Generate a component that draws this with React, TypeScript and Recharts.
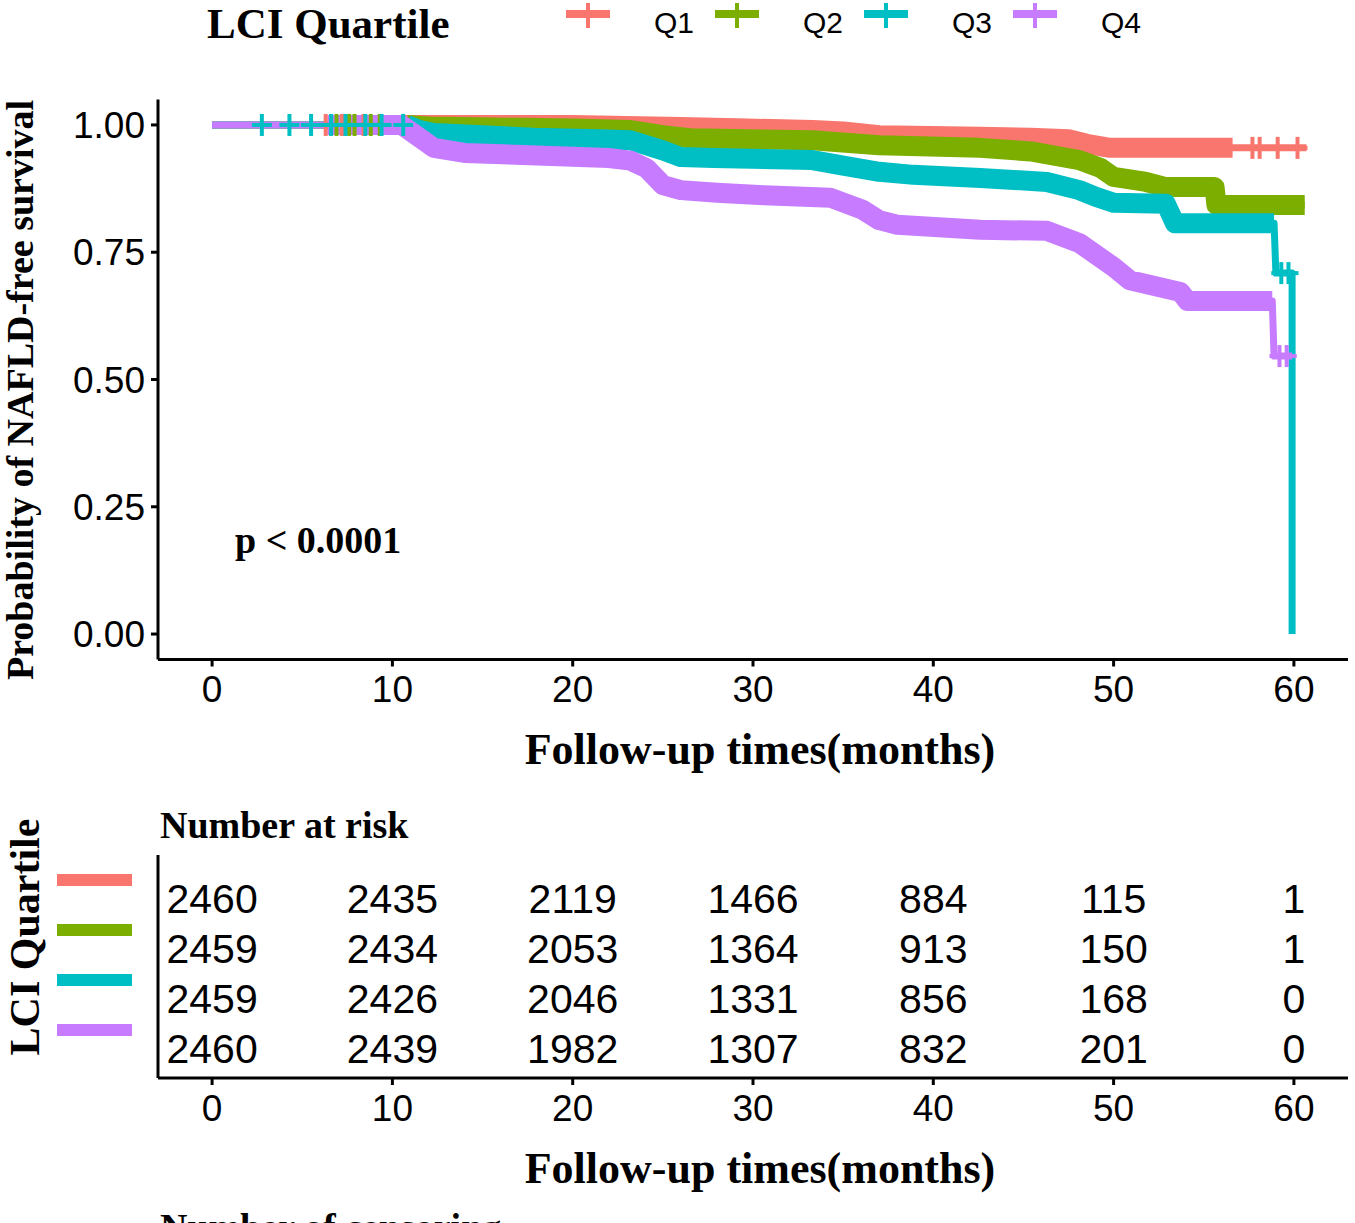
import { ComposedChart, Line, Scatter, XAxis, YAxis } from "recharts";

const quartiles = ["Q1", "Q2", "Q3", "Q4"];
const colors = ["#F8766D", "#7CAE00", "#00BFC4", "#C77CFF"];

const timeTicks = [0, 10, 20, 30, 40, 50, 60];
const survTicks = [0, 0.25, 0.5, 0.75, 1];

// survival curves (months, probability)
const q1Time = [0, 6.3, 9.0, 20, 26, 29.7, 33.3, 35, 37, 42.6, 45.4, 47.5, 48.5, 49.8, 56.6, 60.7];
const q1Surv = [1, 1, 1, 1, 0.996, 0.993, 0.99, 0.987, 0.98, 0.977, 0.975, 0.972, 0.963, 0.955, 0.955, 0.955];

const q2Time = [0, 10.8, 12, 20, 23.2, 25, 26.5, 33.3, 37, 42.6, 45.4, 48.1, 49.3, 50, 51.8, 52.9, 55.6, 55.7, 60.6];
const q2Surv = [1, 1, 0.997, 0.993, 0.99, 0.98, 0.974, 0.97, 0.96, 0.955, 0.948, 0.931, 0.915, 0.898, 0.888, 0.878, 0.878, 0.843, 0.843];

const q3Time = [0, 10.8, 11.5, 12.3, 17.8, 21.5, 23.2, 25, 26, 27.8, 33.3, 35, 37, 38.9, 42.6, 46.3, 48.1, 49, 50, 52.9, 53.4, 58.9, 59.0, 59.9, 59.9];
const q3Surv = [1, 1, 0.99, 0.984, 0.975, 0.972, 0.97, 0.95, 0.937, 0.935, 0.931, 0.92, 0.908, 0.902, 0.896, 0.888, 0.872, 0.859, 0.847, 0.845, 0.807, 0.807, 0.709, 0.709, 0];

const q4Time = [0, 6.4, 10.5, 11.5, 12.3, 14, 18, 22, 23.2, 24.1, 25, 26, 28, 30.6, 34.3, 36.1, 37, 38, 42.6, 46.3, 48.1, 50, 50.9, 53.7, 54.1, 58.8, 58.9, 59.9];
const q4Surv = [1, 1, 1, 0.975, 0.955, 0.945, 0.94, 0.935, 0.93, 0.915, 0.882, 0.872, 0.867, 0.862, 0.857, 0.833, 0.813, 0.804, 0.794, 0.792, 0.768, 0.721, 0.695, 0.672, 0.654, 0.654, 0.546, 0.546];

// stretch where censor marks are so dense they merge into a band
const q1Band = [9.0, 56.6];
const q2Band = [10.8, 60.6];
const q3Band = [10.8, 58.9];
const q4Band = [6.4, 58.8];

// separate censor marks [month, probability]
const q1Censor = [[6.3, 1], [7.2, 1], [8.4, 1], [57.7, 0.955], [58.1, 0.955], [59.1, 0.955], [60.2, 0.955]];
const q2Censor = [[6.9, 1], [7.6, 1], [7.9, 1], [8.8, 1], [9.3, 1]];
const q3Censor = [[2.76, 1], [4.29, 1], [5.49, 1], [6.6, 1], [7.4, 1], [8.5, 1], [9.4, 1], [10.6, 1], [59.3, 0.709], [59.7, 0.709]];
const q4Censor = [[59.2, 0.546], [59.6, 0.546]];

// number at risk
const riskTimes = [0, 10, 20, 30, 40, 50, 60];
const riskQ1 = [2460, 2435, 2119, 1466, 884, 115, 1];
const riskQ2 = [2459, 2434, 2053, 1364, 913, 150, 1];
const riskQ3 = [2459, 2426, 2046, 1331, 856, 168, 0];
const riskQ4 = [2460, 2439, 1982, 1307, 832, 201, 0];

const sans = "Liberation Sans, Arial, sans-serif";
const serif = "Liberation Serif, Times New Roman, serif";

const curves = [
  { time: q1Time, surv: q1Surv, band: q1Band, censor: q1Censor },
  { time: q2Time, surv: q2Surv, band: q2Band, censor: q2Censor },
  { time: q3Time, surv: q3Surv, band: q3Band, censor: q3Censor },
  { time: q4Time, surv: q4Surv, band: q4Band, censor: q4Censor },
].map((c, i) => {
  const pts = c.time.map((t, j) => ({ t, s: c.surv[j] }));
  return {
    name: quartiles[i],
    color: colors[i],
    pts,
    band: pts.filter((p) => p.t >= c.band[0] && p.t <= c.band[1]),
    marks: c.censor.map(([t, s]) => ({ t, s })),
  };
});

const riskRows = [riskQ1, riskQ2, riskQ3, riskQ4].map((vals, i) =>
  vals.map((n, j) => ({ t: riskTimes[j], row: i + 1, n }))
);

function Cross(props: any) {
  const { cx, cy, fill } = props;
  if (cx == null || cy == null) return null;
  return (
    <g>
      <rect x={cx - 10} y={cy - 2} width={20} height={4} fill={fill} />
      <rect x={cx - 2} y={cy - 11} width={4} height={22} fill={fill} />
    </g>
  );
}

function RiskText(props: any) {
  const { cx, cy, payload } = props;
  return (
    <text x={cx} y={cy} dy="0.36em" textAnchor="middle" fontSize={41} fontFamily={sans} fill="#000">
      {payload.n}
    </text>
  );
}

function ColorBar(props: any) {
  const { y, payload } = props;
  return <rect x={57} y={y - 24} width={75} height={12} fill={colors[payload.value - 1]} />;
}

const axisStyle = { stroke: "#000", strokeWidth: 3 };
const tickStyle = { fill: "#000", fontSize: 37, fontFamily: sans };

export default function App() {
  return (
    <div style={{ position: "absolute", left: 0, top: 0, width: 1355, height: 1223, background: "#fff", overflow: "hidden" }}>
      <div style={{ position: "absolute", left: 0, top: 0 }}>
        <ComposedChart width={1355} height={720} margin={{ top: 99.5, right: 7, bottom: 0.5, left: 58 }}>
          <XAxis
            dataKey="t"
            type="number"
            domain={[-3, 63]}
            ticks={timeTicks}
            interval={0}
            allowDataOverflow
            height={60}
            tickSize={7}
            tickMargin={9}
            axisLine={axisStyle}
            tickLine={axisStyle}
            tick={tickStyle}
          />
          <YAxis
            dataKey="s"
            type="number"
            domain={[-0.05, 1.05]}
            ticks={survTicks}
            interval={0}
            allowDataOverflow
            width={100}
            tickSize={7}
            tickMargin={6}
            tickFormatter={(v: number) => v.toFixed(2)}
            axisLine={axisStyle}
            tickLine={axisStyle}
            tick={tickStyle}
          />
          {curves.map((c) => (
            <Line
              key={"line" + c.name}
              data={c.pts}
              dataKey="s"
              type="linear"
              stroke={c.color}
              strokeWidth={7}
              strokeLinejoin="round"
              dot={false}
              activeDot={false}
              isAnimationActive={false}
            />
          ))}
          {curves.map((c) => (
            <Line
              key={"band" + c.name}
              data={c.band}
              dataKey="s"
              type="linear"
              stroke={c.color}
              strokeWidth={20}
              strokeLinejoin="round"
              dot={false}
              activeDot={false}
              isAnimationActive={false}
            />
          ))}
          {curves.map((c) => (
            <Scatter
              key={"cens" + c.name}
              data={c.marks}
              dataKey="s"
              fill={c.color}
              shape={(p: any) => <Cross {...p} fill={c.color} />}
              isAnimationActive={false}
            />
          ))}
        </ComposedChart>
      </div>

      <div style={{ position: "absolute", left: 0, top: 760 }}>
        <ComposedChart width={1355} height={378} margin={{ top: 95, right: 7, bottom: 0, left: 58 }}>
          <XAxis
            dataKey="t"
            type="number"
            domain={[-3, 63]}
            ticks={timeTicks}
            interval={0}
            allowDataOverflow
            height={60}
            tickSize={7}
            tickMargin={10}
            axisLine={axisStyle}
            tickLine={axisStyle}
            tick={tickStyle}
          />
          <YAxis
            dataKey="row"
            type="number"
            domain={[0.14, 4.6]}
            ticks={[1, 2, 3, 4]}
            interval={0}
            reversed
            allowDataOverflow
            width={100}
            tickLine={false}
            axisLine={axisStyle}
            tick={<ColorBar />}
          />
          {riskRows.map((rows, i) => (
            <Scatter
              key={"risk" + i}
              data={rows}
              dataKey="row"
              fill="#000"
              shape={(p: any) => <RiskText {...p} />}
              isAnimationActive={false}
            />
          ))}
        </ComposedChart>
      </div>

      <svg width={1355} height={1223} style={{ position: "absolute", left: 0, top: 0, pointerEvents: "none" }}>
        <text x={207} y={38} fontFamily={serif} fontWeight="bold" fontSize={43} fill="#000">
          LCI Quartile
        </text>
        {quartiles.map((q, i) => {
          const kx = [588, 737, 886, 1035][i];
          return (
            <g key={q}>
              <rect x={kx - 22} y={10} width={44} height={8} fill={colors[i]} />
              <rect x={kx - 2} y={3} width={4} height={25} fill={colors[i]} />
              <text x={kx + 66} y={33} fontFamily={sans} fontSize={30} fill="#000">
                {q}
              </text>
            </g>
          );
        })}
        <text x={235} y={553} fontFamily={serif} fontWeight="bold" fontSize={38} fill="#000">
          p &lt; 0.0001
        </text>
        <text
          x={0}
          y={0}
          transform="translate(33,390) rotate(-90)"
          textAnchor="middle"
          fontFamily={serif}
          fontWeight="bold"
          fontSize={38}
          fill="#000"
        >
          Probability of NAFLD-free survival
        </text>
        <text x={760} y={764} textAnchor="middle" fontFamily={serif} fontWeight="bold" fontSize={44} fill="#000">
          Follow-up times(months)
        </text>
        <text x={160} y={838} fontFamily={serif} fontWeight="bold" fontSize={38} fill="#000">
          Number at risk
        </text>
        <text
          x={0}
          y={0}
          transform="translate(39,937) rotate(-90)"
          textAnchor="middle"
          fontFamily={serif}
          fontWeight="bold"
          fontSize={42}
          fill="#000"
        >
          LCI Quartile
        </text>
        <text x={760} y={1183} textAnchor="middle" fontFamily={serif} fontWeight="bold" fontSize={44} fill="#000">
          Follow-up times(months)
        </text>
        <text x={160} y={1240} fontFamily={serif} fontWeight="bold" fontSize={38} fill="#000">
          Number of censoring
        </text>
      </svg>
    </div>
  );
}
